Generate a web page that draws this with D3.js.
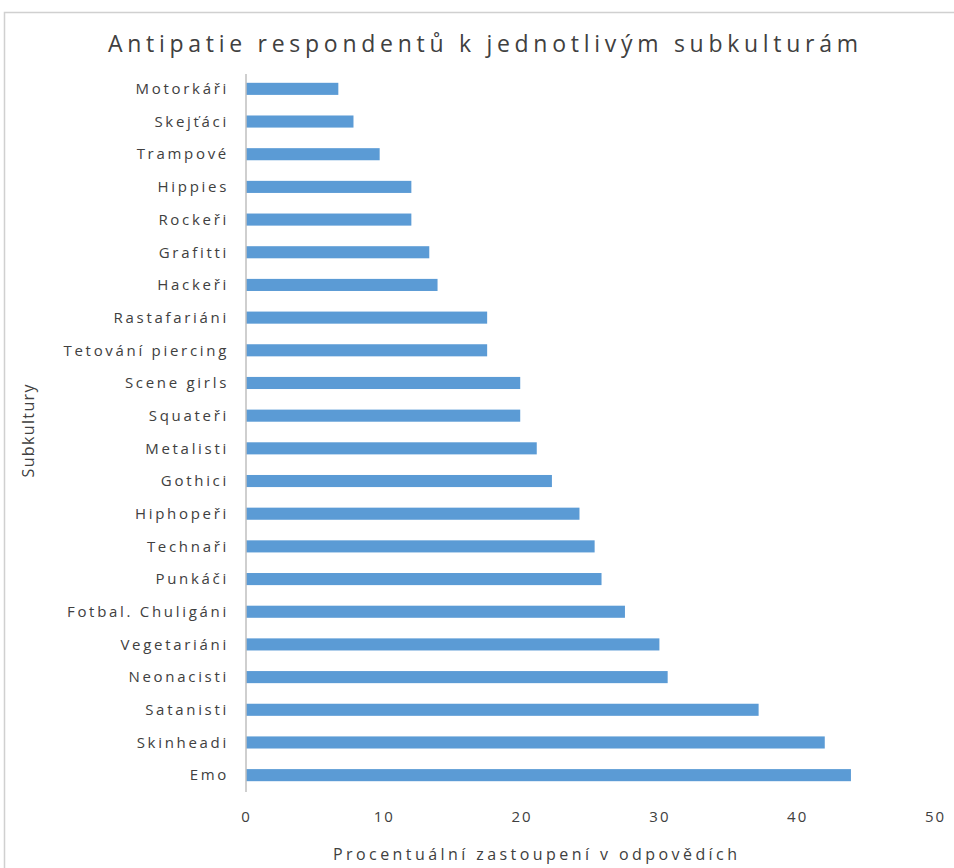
<!DOCTYPE html>
<html>
<head>
<meta charset="utf-8">
<script src="https://cdn.jsdelivr.net/npm/d3@7"></script>
<style>
  body { margin: 0; background: #fff; }
  text { font-family: "Open Sans", "DejaVu Sans", sans-serif; fill: #404040; }
</style>
</head>
<body>
<svg id="chart" width="954" height="868"></svg>
<script>
const categories = ["Motorkáři", "Skejťáci", "Trampové", "Hippies", "Rockeři", "Grafitti", "Hackeři",
  "Rastafariáni", "Tetování piercing", "Scene girls", "Squateři", "Metalisti", "Gothici", "Hiphopeři",
  "Technaři", "Punkáči", "Fotbal. Chuligáni", "Vegetariáni", "Neonacisti", "Satanisti", "Skinheadi", "Emo"];
const values = [6.7, 7.8, 9.7, 12, 12, 13.3, 13.9, 17.5, 17.5, 19.9, 19.9, 21.1, 22.2, 24.2,
  25.3, 25.8, 27.5, 30, 30.6, 37.2, 42, 43.9];
const xTicks = [0, 10, 20, 30, 40, 50];
const title = "Antipatie respondentů k jednotlivým subkulturám";
const xTitle = "Procentuální zastoupení v odpovědích";
const yTitle = "Subkultury";

const svg = d3.select("#chart");

// chart frame
svg.append("rect")
  .attr("x", 4.5).attr("y", 12.5)
  .attr("width", 960).attr("height", 870)
  .attr("fill", "none").attr("stroke", "#d0d0d0").attr("stroke-width", 1.5);

const x = d3.scaleLinear().domain([0, 50]).range([246, 935]);
const y = d3.scaleBand().domain(categories).range([74, 792]).paddingInner(0.63).paddingOuter(0.3);

// bars
svg.append("g").selectAll("rect")
  .data(values)
  .join("rect")
  .attr("x", x(0))
  .attr("y", (d, i) => y(categories[i]) - 1)
  .attr("width", d => x(d) - x(0))
  .attr("height", y.bandwidth())
  .attr("fill", "#5b9bd5");

// y axis line
svg.append("line")
  .attr("x1", x(0)).attr("x2", x(0))
  .attr("y1", 74).attr("y2", 792)
  .attr("stroke", "#bfbfbf").attr("stroke-width", 1.5);

// category labels
svg.append("g").selectAll("text")
  .data(categories)
  .join("text")
  .attr("x", 229)
  .attr("y", d => y(d) + y.bandwidth() / 2 - 1)
  .attr("dy", "0.35em")
  .attr("text-anchor", "end")
  .attr("font-size", 15)
  .attr("letter-spacing", 2.7)
  .text(d => d);

// x tick labels
const xAxis = d3.axisBottom(x).tickValues(xTicks).tickSize(0).tickPadding(0);
const gx = svg.append("g").attr("transform", "translate(0,811)").call(xAxis);
gx.select(".domain").remove();
gx.selectAll("text")
  .attr("font-size", 15)
  .attr("letter-spacing", 2)
  .attr("font-family", null)
  .attr("fill", "#404040");

// titles
svg.append("text")
  .attr("x", 483).attr("y", 52)
  .attr("text-anchor", "middle")
  .attr("font-size", 23)
  .attr("textLength", 750).attr("lengthAdjust", "spacing")
  .text(title);

svg.append("text")
  .attr("x", 535).attr("y", 860)
  .attr("text-anchor", "middle")
  .attr("font-size", 16)
  .attr("textLength", 404).attr("lengthAdjust", "spacing")
  .text(xTitle);

svg.append("text")
  .attr("transform", "translate(34,431) rotate(-90)")
  .attr("text-anchor", "middle")
  .attr("font-size", 16)
  .attr("textLength", 93).attr("lengthAdjust", "spacing")
  .text(yTitle);
</script>
</body>
</html>
